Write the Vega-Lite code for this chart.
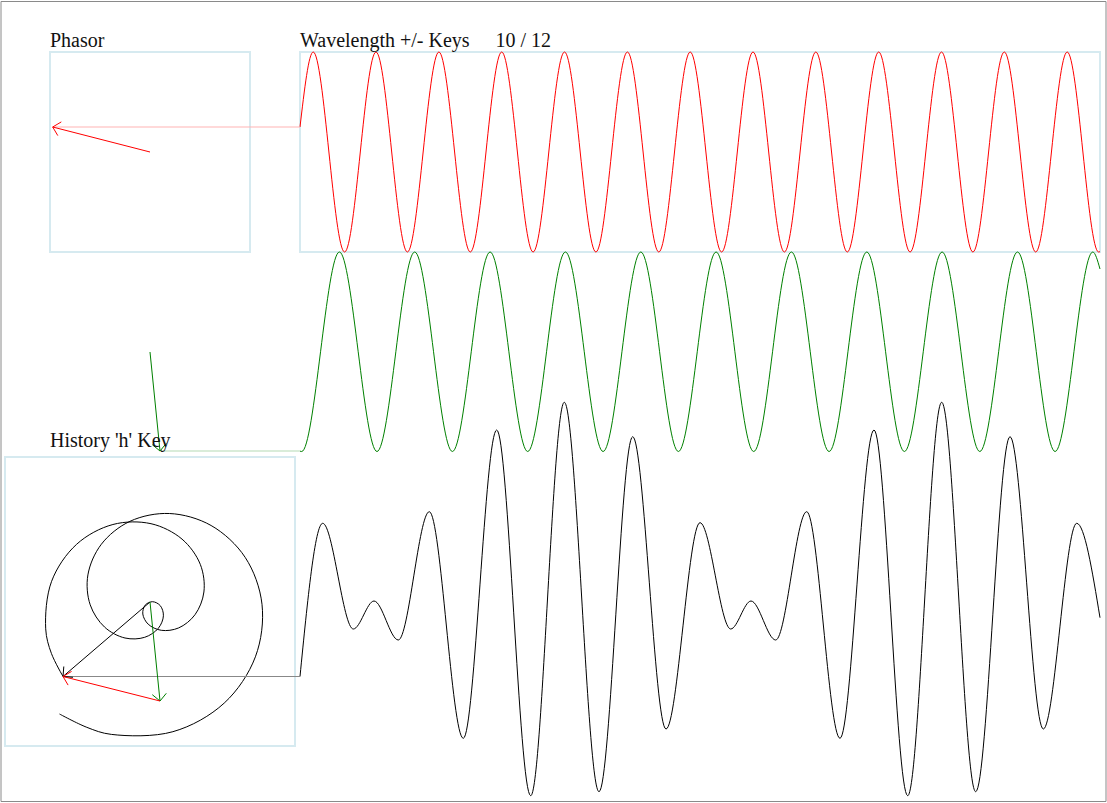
{
  "$schema": "https://vega.github.io/schema/vega-lite/v6.json",
  "width": 1107,
  "height": 803,
  "padding": 0,
  "autosize": {"type": "fit", "contains": "padding"},
  "background": "white",
  "view": {"stroke": null},
  "datasets": {
    "boxes": [
      {"name": "outer", "x": 1, "x2": 1106, "y": 1.5, "y2": 801.5},
      {"name": "phasor", "x": 50, "x2": 250, "y": 52, "y2": 252},
      {"name": "wave", "x": 300, "x2": 1100, "y": 52, "y2": 252},
      {"name": "history", "x": 5, "x2": 295, "y": 457, "y2": 746}
    ],
    "labels": [
      {"label": "Phasor", "x": 50, "y": 47},
      {"label": "Wavelength +/- Keys", "x": 300, "y": 47},
      {"label": "10 / 12", "x": 495.5, "y": 47},
      {"label": "History 'h' Key", "x": 50, "y": 447}
    ],
    "red": [
      {"x": 300, "y": 127}, {"x": 313.2, "y": 52}, {"x": 344.6, "y": 252}, {"x": 376.0, "y": 52},
      {"x": 407.4, "y": 252}, {"x": 438.9, "y": 52}, {"x": 470.3, "y": 252}, {"x": 501.7, "y": 52},
      {"x": 533.1, "y": 252}, {"x": 564.5, "y": 52}, {"x": 595.9, "y": 252}, {"x": 627.4, "y": 52},
      {"x": 658.8, "y": 252}, {"x": 690.2, "y": 52}, {"x": 721.6, "y": 252}, {"x": 753.0, "y": 52},
      {"x": 784.4, "y": 252}, {"x": 815.8, "y": 52}, {"x": 847.3, "y": 252}, {"x": 878.7, "y": 52},
      {"x": 910.1, "y": 252}, {"x": 941.5, "y": 52}, {"x": 972.9, "y": 252}, {"x": 1004.3, "y": 52},
      {"x": 1035.7, "y": 252}, {"x": 1067.2, "y": 52}, {"x": 1098.6, "y": 252}, {"x": 1100, "y": 251.7}
    ],
    "green": [
      {"x": 300, "y": 451.2}, {"x": 301.7, "y": 451.5}, {"x": 339.4, "y": 252}, {"x": 377.0, "y": 451.5},
      {"x": 414.7, "y": 252}, {"x": 452.4, "y": 451.5}, {"x": 490.1, "y": 252}, {"x": 527.7, "y": 451.5},
      {"x": 565.4, "y": 252}, {"x": 603.1, "y": 451.5}, {"x": 640.8, "y": 252}, {"x": 678.4, "y": 451.5},
      {"x": 716.1, "y": 252}, {"x": 753.7, "y": 451.5}, {"x": 791.4, "y": 252}, {"x": 829.1, "y": 451.5},
      {"x": 866.8, "y": 252}, {"x": 904.4, "y": 451.5}, {"x": 942.1, "y": 252}, {"x": 979.8, "y": 451.5},
      {"x": 1017.5, "y": 252}, {"x": 1055.1, "y": 451.5}, {"x": 1092.8, "y": 252}, {"x": 1100, "y": 269}
    ],
    "black": [
      {"x": 300, "y": 676.5}, {"x": 322.7, "y": 523.3}, {"x": 353.3, "y": 629}, {"x": 374, "y": 601},
      {"x": 398.3, "y": 640}, {"x": 429.3, "y": 511.7}, {"x": 463.3, "y": 738.3}, {"x": 496.7, "y": 430},
      {"x": 530.7, "y": 795.7}, {"x": 564.3, "y": 402.3}, {"x": 599, "y": 791.7}, {"x": 632.7, "y": 436.7},
      {"x": 666, "y": 729}, {"x": 700, "y": 522.7}, {"x": 730.7, "y": 629}, {"x": 751, "y": 601},
      {"x": 775.7, "y": 640}, {"x": 806.7, "y": 511.7}, {"x": 840, "y": 738.3}, {"x": 874, "y": 430},
      {"x": 907.7, "y": 795.7}, {"x": 941.7, "y": 402.3}, {"x": 975.7, "y": 791.7}, {"x": 1010, "y": 436.7},
      {"x": 1043.3, "y": 729}, {"x": 1076.7, "y": 523.3}, {"x": 1100, "y": 617.7}
    ],
    "hist": [
      {"i": 0, "x": 63.1, "y": 676.6}, {"i": 2.5, "x": 51.4, "y": 653.4}, {"i": 5, "x": 45.7, "y": 628.8}, {"i": 10, "x": 51.6, "y": 581.3},
      {"i": 15, "x": 76.6, "y": 544.3}, {"i": 20, "x": 112.9, "y": 524.5}, {"i": 25, "x": 151.0, "y": 523.7},
      {"i": 30, "x": 182.0, "y": 539.1}, {"i": 35, "x": 200.3, "y": 564.4}, {"i": 40, "x": 203.9, "y": 592.0},
      {"i": 45, "x": 195.0, "y": 614.7}, {"i": 50, "x": 178.7, "y": 627.9}, {"i": 55, "x": 161.3, "y": 630.3},
      {"i": 60, "x": 148.2, "y": 624.2}, {"i": 65, "x": 142.8, "y": 614.0}, {"i": 70, "x": 145.2, "y": 605.1},
      {"i": 75, "x": 152.6, "y": 601.7}, {"i": 80, "x": 160.3, "y": 605.7}, {"i": 85, "x": 163.4, "y": 615.8},
      {"i": 90, "x": 158.4, "y": 628.2}, {"i": 95, "x": 144.7, "y": 637.3}, {"i": 100, "x": 125.0, "y": 638.0},
      {"i": 105, "x": 104.6, "y": 627.1}, {"i": 110, "x": 90.2, "y": 604.8}, {"i": 115, "x": 87.9, "y": 574.9},
      {"i": 120, "x": 101.3, "y": 544.3}, {"i": 125, "x": 130.0, "y": 521.3}, {"i": 130, "x": 169.4, "y": 513.5},
      {"i": 135, "x": 211.1, "y": 525.5}, {"i": 140, "x": 245.2, "y": 557.4}, {"i": 145, "x": 262.0, "y": 604.3},
      {"i": 150, "x": 255.4, "y": 656.8}, {"i": 155, "x": 224.2, "y": 703.1}, {"i": 160, "x": 172.9, "y": 731.7},
      {"i": 165, "x": 111.4, "y": 734.4}, {"i": 167, "x": 86.8, "y": 727.3}, {"i": 169, "x": 59.5, "y": 714}
    ],
    "segs": [
      {"c": "redfaint", "x": 52.7, "y": 127, "x2": 300, "y2": 127},
      {"c": "greenfaint", "x": 160, "y": 451, "x2": 300, "y2": 451},
      {"c": "grayline", "x": 63, "y": 676.5, "x2": 300, "y2": 676.5},
      {"c": "red", "x": 150, "y": 152, "x2": 52.7, "y2": 127},
      {"c": "red", "x": 52.7, "y": 127, "x2": 57.8, "y2": 135.6},
      {"c": "red", "x": 52.7, "y": 127, "x2": 61.3, "y2": 121.9},
      {"c": "green", "x": 150, "y": 352, "x2": 160, "y2": 451},
      {"c": "green", "x": 160, "y": 451, "x2": 166.3, "y2": 443.3},
      {"c": "green", "x": 160, "y": 451, "x2": 152.3, "y2": 444.7},
      {"c": "black", "x": 150, "y": 602, "x2": 63, "y2": 676.5},
      {"c": "black", "x": 63, "y": 676.5, "x2": 73, "y2": 677.3},
      {"c": "black", "x": 63, "y": 676.5, "x2": 63.8, "y2": 666.5},
      {"c": "green", "x": 150, "y": 602, "x2": 160, "y2": 701},
      {"c": "green", "x": 160, "y": 701, "x2": 166.3, "y2": 693.3},
      {"c": "green", "x": 160, "y": 701, "x2": 152.3, "y2": 694.7},
      {"c": "red", "x": 160, "y": 701, "x2": 63, "y2": 676.5},
      {"c": "red", "x": 63, "y": 676.5, "x2": 68.1, "y2": 685.1},
      {"c": "red", "x": 63, "y": 676.5, "x2": 71.6, "y2": 671.4}
    ]
  },
  "encoding": {
    "x": {"field": "x", "type": "quantitative", "scale": {"domain": [0, 1107], "nice": false, "zero": false}, "axis": null},
    "y": {"field": "y", "type": "quantitative", "scale": {"domain": [0, 803], "nice": false, "zero": false, "reverse": true}, "axis": null}
  },
  "layer": [
    {
      "data": {"name": "boxes"},
      "transform": [{"filter": "datum.name === 'outer'"}],
      "mark": {"type": "rect", "filled": false, "stroke": "#8a8a8a", "strokeWidth": 1},
      "encoding": {"x2": {"field": "x2"}, "y2": {"field": "y2"}}
    },
    {
      "data": {"name": "boxes"},
      "transform": [{"filter": "datum.name !== 'outer'"}],
      "mark": {"type": "rect", "filled": false, "stroke": "#d6eaf0", "strokeWidth": 2},
      "encoding": {"x2": {"field": "x2"}, "y2": {"field": "y2"}}
    },
    {
      "data": {"name": "red"},
      "mark": {"type": "line", "interpolate": "monotone", "color": "#ff0000", "strokeWidth": 1}
    },
    {
      "data": {"name": "green"},
      "mark": {"type": "line", "interpolate": "monotone", "color": "#008000", "strokeWidth": 1}
    },
    {
      "data": {"name": "black"},
      "mark": {"type": "line", "interpolate": "monotone", "color": "#000000", "strokeWidth": 1}
    },
    {
      "data": {"name": "hist"},
      "mark": {"type": "line", "interpolate": "catmull-rom", "color": "#000000", "strokeWidth": 1},
      "encoding": {"order": {"field": "i", "type": "quantitative"}}
    },
    {
      "data": {"name": "segs"},
      "mark": {"type": "rule", "strokeWidth": 1},
      "encoding": {
        "x2": {"field": "x2"},
        "y2": {"field": "y2"},
        "color": {
          "field": "c",
          "type": "nominal",
          "legend": null,
          "scale": {
            "domain": ["redfaint", "greenfaint", "grayline", "red", "green", "black"],
            "range": ["#ffb3b3", "#b3d9b3", "#888888", "#ff0000", "#008000", "#000000"]
          }
        }
      }
    },
    {
      "data": {"name": "labels"},
      "mark": {"type": "text", "align": "left", "baseline": "alphabetic", "font": "Liberation Serif", "fontSize": 20, "color": "#111111"},
      "encoding": {"text": {"field": "label", "type": "nominal"}}
    }
  ]
}
